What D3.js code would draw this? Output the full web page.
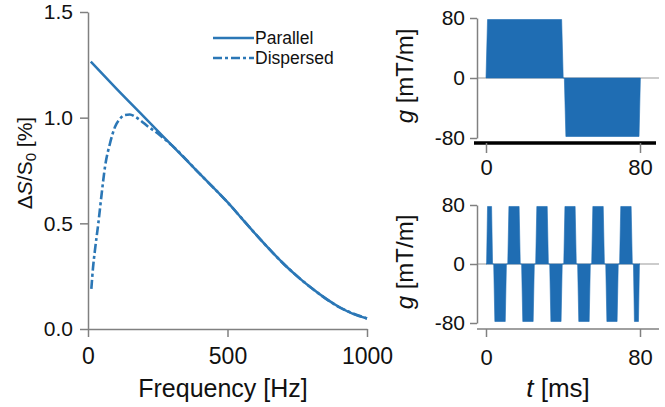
<!DOCTYPE html>
<html><head><meta charset="utf-8">
<script src="https://cdn.jsdelivr.net/npm/d3@7"></script>
<style>
html,body{margin:0;padding:0;background:#fff;}
svg{display:block;font-family:"Liberation Sans",Arial,Helvetica,sans-serif;}
.axis path,.axis line{stroke:#808080;stroke-width:1.5;}
.axis text{fill:#111;}
</style></head>
<body>
<svg id="c" width="665" height="407"></svg>
<script>
// ---- Left panel data ----
const freqTicks = [0, 500, 1000];
const signalTicks = [0, 0.5, 1.0, 1.5];
const parallelFreq = [10, 100, 200, 300, 400, 500, 550, 600, 650, 700, 750, 800, 850, 900, 950, 1000];
const parallelVal  = [1.265, 1.14, 1.005, 0.87, 0.735, 0.60, 0.525, 0.45, 0.378, 0.31, 0.249, 0.195, 0.146, 0.104, 0.072, 0.05];
const dispersedFreq = [12, 18, 25, 37, 49, 61, 79, 97, 115, 133, 150, 168, 190, 216, 240, 264, 300, 400, 500, 600, 700, 800, 900, 1000];
const dispersedVal  = [0.19, 0.29, 0.374, 0.50, 0.64, 0.768, 0.879, 0.957, 0.995, 1.013, 1.015, 1.005, 0.985, 0.957, 0.935, 0.91, 0.87, 0.735, 0.60, 0.45, 0.31, 0.195, 0.104, 0.05];
const legendLabels = ["Parallel", "Dispersed"];

// ---- Right panels data ----
const timeTicks = [0, 80];
const gradTicks = [80, 0, -80];
const pgseTime = [0, 0.8, 39.3, 40.1, 40.7, 41.5, 79.5, 80.2];
const pgseGrad = [0, 78, 78, 0, 0, -78, -78, 0];
const oscTime = [0, 0.3, 0.8, 2.9, 3.4, 4.0, 4.6, 10.0, 10.6, 11.3, 11.9, 17.2, 17.8, 18.5, 19.1, 24.5, 25.1,
                 25.8, 26.4, 31.8, 32.4, 33.1, 33.7, 39.0, 39.6, 40.4, 41.0, 46.3, 46.9, 47.6, 48.2, 53.6, 54.2,
                 54.9, 55.5, 60.9, 61.5, 62.2, 62.8, 68.1, 68.7, 69.4, 70.0, 75.4, 76.0, 76.6, 77.1, 79.2, 79.7, 80];
const oscGrad = [0, 0, 78, 78, 0, 0, -78, -78, 0, 0, 78, 78, 0, 0, -78, -78, 0,
                 0, 78, 78, 0, 0, -78, -78, 0, 0, 78, 78, 0, 0, -78, -78, 0,
                 0, 78, 78, 0, 0, -78, -78, 0, 0, 78, 78, 0, 0, -78, -78, 0, 0];

const lineColor = "#2b77b6";
const fillColor = "#1f6db3";
const svg = d3.select("#c");
const plain = d => String(d);

// ===== Left chart =====
const x = d3.scaleLinear().domain([0, 1000]).range([88, 367]);
const y = d3.scaleLinear().domain([0, 1.5]).range([329, 12]);

const gy = svg.append("g").attr("class", "axis").attr("transform", "translate(88,0)")
  .call(d3.axisLeft(y).tickValues(signalTicks).tickFormat(d3.format(".1f")).tickSize(8).tickSizeOuter(0).tickPadding(7));
gy.selectAll("text").attr("font-size", 21);
const gx = svg.append("g").attr("class", "axis").attr("transform", "translate(0,329)")
  .call(d3.axisBottom(x).tickValues(freqTicks).tickFormat(plain).tickSize(8).tickSizeOuter(0).tickPadding(11));
gx.selectAll("text").attr("font-size", 23);

const line = d3.line().curve(d3.curveMonotoneX).x(d => x(d[0])).y(d => y(d[1]));
svg.append("path").datum(parallelFreq.map((f, i) => [f, parallelVal[i]]))
  .attr("d", line).attr("fill", "none").attr("stroke", lineColor).attr("stroke-width", 2.5);
svg.append("path").datum(dispersedFreq.map((f, i) => [f, dispersedVal[i]]))
  .attr("d", line)
  .attr("fill", "none").attr("stroke", lineColor).attr("stroke-width", 2.6)
  .attr("stroke-dasharray", "9,3,3,3");

// legend
const legY = [38, 58];
legendLabels.forEach((lab, i) => {
  svg.append("line").attr("x1", 213).attr("x2", 254).attr("y1", legY[i]).attr("y2", legY[i])
    .attr("stroke", lineColor).attr("stroke-width", 2.5)
    .attr("stroke-dasharray", i === 1 ? "9,3,3,3" : null);
  svg.append("text").attr("x", 255).attr("y", legY[i] + 6).attr("font-size", 17.5).attr("fill", "#111").text(lab);
});

// titles
svg.append("text").attr("x", 223).attr("y", 397).attr("text-anchor", "middle").attr("font-size", 25).attr("fill", "#111")
  .text("Frequency [Hz]");
const yt = svg.append("text").attr("transform", "translate(32,163) rotate(-90)").attr("text-anchor", "middle")
  .attr("font-size", 21).attr("fill", "#111");
yt.append("tspan").text("Δ");
yt.append("tspan").attr("font-style", "italic").text("S");
yt.append("tspan").text("/S");
yt.append("tspan").attr("font-size", 15).attr("dy", 4).text("0");
yt.append("tspan").attr("dy", -4).text(" [%]");

// ===== Right charts =====
const xt = d3.scaleLinear().domain([0, 80]).range([486, 640]);
function gradPanel(y80, yNeg80, tData, gData, thickBase, axisY) {
  const yg = d3.scaleLinear().domain([-80, 80]).range([yNeg80, y80]);
  svg.append("line").attr("x1", 477).attr("x2", 659).attr("y1", yg(0)).attr("y2", yg(0))
    .attr("stroke", "#9a9a9a").attr("stroke-width", 1.2);
  const area = d3.area().x(d => xt(d[0])).y0(yg(0)).y1(d => yg(d[1]));
  svg.append("path").datum(tData.map((t, i) => [t, gData[i]])).attr("d", area)
    .attr("fill", fillColor).attr("stroke", fillColor).attr("stroke-width", 0.6);
  const ga = svg.append("g").attr("class", "axis").attr("transform", "translate(477,0)")
    .call(d3.axisLeft(yg).tickValues(gradTicks).tickFormat(plain).tickSize(7).tickSizeOuter(0).tickPadding(5));
  ga.selectAll("text").attr("font-size", 21);
  svg.append("line").attr("x1", thickBase ? 474 : 477).attr("x2", thickBase ? 656 : 659)
    .attr("y1", axisY).attr("y2", axisY)
    .attr("stroke", thickBase ? "#000" : "#808080").attr("stroke-width", thickBase ? 3.6 : 1.5);
  const gb = svg.append("g").attr("class", "axis").attr("transform", `translate(0,${axisY})`)
    .call(d3.axisBottom(xt).tickValues(timeTicks).tickFormat(plain).tickSize(thickBase ? 10 : 8).tickSizeOuter(0).tickPadding(thickBase ? 6 : 12));
  gb.select(".domain").remove();
  gb.selectAll("text").attr("font-size", 22);
  const t = svg.append("text").attr("transform", `translate(413,${(y80 + yNeg80) / 2 - 2}) rotate(-90)`)
    .attr("text-anchor", "middle").attr("font-size", 24).attr("fill", "#111");
  t.append("tspan").attr("font-style", "italic").text("g");
  t.append("tspan").text(" [mT/m]");
}
gradPanel(18, 138, pgseTime, pgseGrad, true, 143);
gradPanel(205, 323, oscTime, oscGrad, false, 329);

const tt = svg.append("text").attr("x", 558).attr("y", 397).attr("text-anchor", "middle").attr("font-size", 26).attr("fill", "#111");
tt.append("tspan").attr("font-style", "italic").text("t");
tt.append("tspan").text(" [ms]");
</script>
</body></html>
